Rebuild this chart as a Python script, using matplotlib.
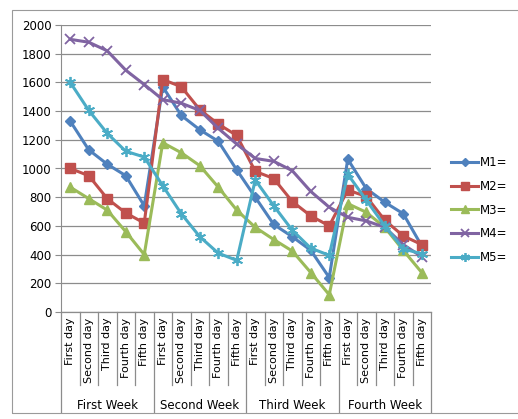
import matplotlib.pyplot as plt
from matplotlib.patches import Rectangle

# ===== data =====
weeks = ["First Week", "Second Week", "Third Week", "Fourth Week"]
days = ["First day", "Second day", "Third day", "Fourth day", "Fifth day"]

m1 = [1330, 1130, 1030, 950, 740,
      1570, 1370, 1270, 1190, 990,
      800, 610, 525, 430, 240,
      1065, 860, 765, 685, 460]
m2 = [1000, 950, 790, 690, 620,
      1620, 1570, 1410, 1310, 1230,
      980, 930, 770, 670, 600,
      850, 805, 640, 530, 470]
m3 = [870, 790, 710, 560, 400,
      1180, 1110, 1020, 870, 710,
      590, 505, 425, 275, 120,
      755, 695, 590, 430, 275]
m4 = [1900, 1880, 1820, 1685, 1585,
      1480, 1455, 1405, 1280, 1170,
      1070, 1050, 985, 840, 730,
      660, 635, 590, 470, 385]
m5 = [1600, 1405, 1245, 1120, 1080,
      880, 685, 525, 410, 360,
      920, 740, 570, 445, 395,
      960, 780, 600, 440, 405]

series = [("M1=", m1), ("M2=", m2), ("M3=", m3), ("M4=", m4), ("M5=", m5)]
colors = ["#4F81BD", "#C0504D", "#9BBB59", "#8064A2", "#4BACC6"]
markers = ["D", "s", "^", "x", (6, 2, 0)]
msizes = [5, 7, 7, 7, 8]

W, H = 518, 419
fig = plt.figure(figsize=(W / 100, H / 100), dpi=100)
# chart-area frame (right side runs off the canvas)
fig.patches.append(Rectangle((12 / W, (H - 413) / H), 520 / W, 403 / H,
                             transform=fig.transFigure, fill=False,
                             edgecolor="#9a9a9a", linewidth=0.8))

ax = fig.add_axes([61 / W, (H - 312) / H, 370 / W, 287 / H])
x = list(range(len(m1)))
for (name, vals), c, mk, ms in zip(series, colors, markers, msizes):
    ax.plot(x, vals, color=c, lw=2.2, marker=mk, ms=ms,
            mew=1.3 if mk in ("x", (6, 2, 0)) else 1, label=name, zorder=3)

ax.set_xlim(-0.5, len(m1) - 0.5)
ax.set_ylim(0, 2000)
ax.set_yticks(range(0, 2001, 200))
ax.yaxis.grid(True, color="#8c8c8c", lw=0.9)
ax.set_axisbelow(True)
for s in ["top", "right", "bottom"]:
    ax.spines[s].set_visible(False)
ax.spines["left"].set_color("#8c8c8c")
ax.tick_params(axis="y", length=4, color="#8c8c8c", labelsize=8.5, pad=3)
ax.set_xticks([])

# two-level category axis: days, then weeks
tr = ax.get_xaxis_transform()
ax.plot([-0.5, len(m1) - 0.5], [0, 0], transform=tr, color="#8c8c8c", lw=0.9, clip_on=False)
for i in range(len(m1) + 1):
    bottom = -0.348 if i % 5 == 0 else -0.254
    ax.plot([i - 0.5, i - 0.5], [0, bottom], transform=tr, color="#8c8c8c", lw=0.9,
            clip_on=False)
for i in range(len(m1)):
    ax.text(i, -0.02, days[i % 5], transform=tr, rotation=90, ha="center", va="top",
            fontsize=8)
for k, wk in enumerate(weeks):
    ax.text(5 * k + 2, -0.325, wk, transform=tr, ha="center", va="center", fontsize=8.5)

fig.legend(loc="center left", bbox_to_anchor=(451 / W, (H - 210) / H), frameon=False,
           fontsize=8.5, handlelength=2.3, handletextpad=0.15, labelspacing=0.9,
           borderpad=0, borderaxespad=0, markerscale=0.8)

fig.savefig("out.png", dpi=100)
